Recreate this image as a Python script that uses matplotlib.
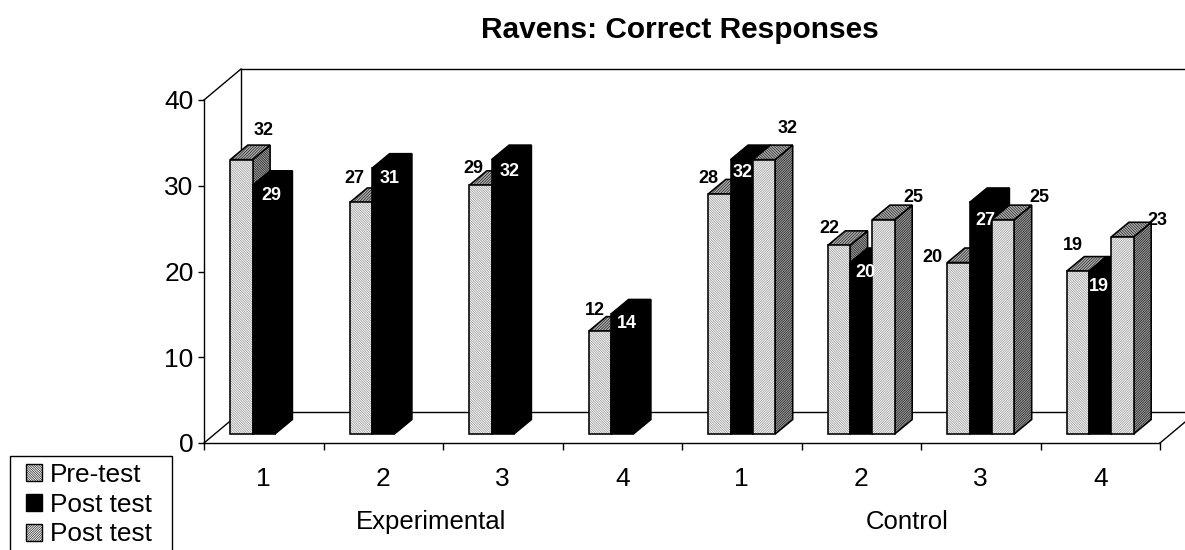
import matplotlib
matplotlib.use("Agg")
import matplotlib.pyplot as plt
from matplotlib.patches import Polygon, Rectangle

plt.rcParams['font.family'] = ['Liberation Sans', 'DejaVu Sans']
plt.rcParams['hatch.linewidth'] = 0.4

# ----- data -----
categories = ['1', '2', '3', '4', '1', '2', '3', '4']
groups = ['Experimental', 'Control']
series_names = ['Pre-test', 'Post test', 'Post test']
pre_test = [32, 27, 29, 12, 28, 22, 20, 19]
post_test = [29, 31, 32, 14, 32, 20, 27, 19]
post_test2 = [None, None, None, None, 32, 25, 25, 23]

# label offsets from the bar's front top centre, in pixels (moved by hand in the original)
pre_offsets = [(22.5, -28.6), (-7, -23.5), (-7.5, -17.3), (-5, -21),
               (-11.5, -15), (-10, -16.4), (-26.5, -4.5), (-5, -26)]
post_offsets = [(7.25, 9.7), (6.75, 10.8), (7.25, 12.4), (4.75, 10),
                (1.25, 13.4), (3.75, 10.5), (4.25, 18.5), (-1.25, 15.9)]
post2_offsets = [None, None, None, None, (24, -30.6), (29.5, -22.6), (36, -22.6), (34.5, -15.8)]

# ----- layout, in pixels of the 1185x550 picture -----
W, H = 1185, 550
left, right, top, bottom = 204, 1160, 100, 443
fig = plt.figure(figsize=(W / 100, H / 100), dpi=100)
ax = fig.add_axes([left / W, 1 - bottom / H, (right - left) / W, (bottom - top) / H])
ax.set_xlim(0, 8)
ax.set_ylim(0, 40)
px_x = 8 / (right - left)
px_y = 40 / (bottom - top)

wall_dx, wall_dy = 37 * px_x, 31 * px_y
depth_dx, depth_dy = 17.5 * px_x, 14.5 * px_y
floor_y = 9 * px_y
bar_w = 22.3 * px_x
edge = 1.15

# ----- walls -----
far_right = 8 + 40 * px_x
wall = dict(color='black', lw=1.0, clip_on=False, zorder=1)
ax.plot([0, wall_dx], [0, wall_dy], **wall)
ax.plot([0, wall_dx], [40, 40 + wall_dy], **wall)
ax.plot([wall_dx, wall_dx], [wall_dy, 40 + wall_dy], **wall)
ax.plot([wall_dx, far_right], [wall_dy, wall_dy], **wall)
ax.plot([wall_dx, far_right], [40 + wall_dy, 40 + wall_dy], **wall)
ax.plot([8, 8 + wall_dx], [0, wall_dy], **wall)

# ----- bars -----
styles = [
    dict(front='#f2f2f2', fh='\\' * 14, fc='#8a8a8a',
         top='#b0b0b0', th='/' * 12, side='#a0a0a0', sh='\\' * 14),
    dict(front='#000000', fh=None, fc='black',
         top='#000000', th=None, side='#000000', sh=None),
    dict(front='#f2f2f2', fh='/' * 14, fc='#8a8a8a',
         top='#b0b0b0', th='\\' * 12, side='#a0a0a0', sh='/' * 14),
]


def draw_bar(x, v, st, z):
    x0, x1 = x - bar_w / 2, x + bar_w / 2
    y0, y1 = floor_y, floor_y + v
    dx, dy = depth_dx, depth_dy
    side = Polygon([(x1, y0), (x1 + dx, y0 + dy), (x1 + dx, y1 + dy), (x1, y1)], closed=True,
                   facecolor=st['side'], edgecolor='black', hatch=st['sh'], lw=edge,
                   clip_on=False, zorder=z)
    roof = Polygon([(x0, y1), (x0 + dx, y1 + dy), (x1 + dx, y1 + dy), (x1, y1)], closed=True,
                   facecolor=st['top'], edgecolor='black', hatch=st['th'], lw=edge,
                   clip_on=False, zorder=z)
    ax.add_patch(side)
    ax.add_patch(roof)
    # hatch first in grey, then the black outline over it
    ax.bar(x, v, bar_w, bottom=floor_y, color=st['front'], edgecolor=st['fc'], hatch=st['fh'],
           lw=0, clip_on=False, zorder=z + 0.1)
    ax.bar(x, v, bar_w, bottom=floor_y, fill=False, edgecolor='black', lw=edge,
           clip_on=False, zorder=z + 0.2)


def draw_label(x, v, off, color):
    ax.annotate(str(v), (x, floor_y + v), xytext=(off[0], -off[1]), textcoords='offset pixels',
                ha='center', va='center', fontsize=13, fontweight='bold', color=color,
                annotation_clip=False, zorder=50)


for i in range(len(categories)):
    xc = i + 0.5
    all_vals = [pre_test[i], post_test[i], post_test2[i]]
    for j, v in enumerate(all_vals):
        if v is not None:
            draw_bar(xc + (j - 1) * bar_w, v, styles[j], 5 + i * 3 + j)

for i in range(len(categories)):
    xc = i + 0.5
    draw_label(xc - bar_w, pre_test[i], pre_offsets[i], 'black')
    draw_label(xc, post_test[i], post_offsets[i], 'white')
    if post_test2[i] is not None:
        draw_label(xc + bar_w, post_test2[i], post2_offsets[i], 'black')

# ----- axes -----
for s in ['top', 'right']:
    ax.spines[s].set_visible(False)
for s in ['left', 'bottom']:
    ax.spines[s].set_linewidth(1.0)
ax.patch.set_alpha(0)
ax.set_yticks([0, 10, 20, 30, 40])
ax.tick_params(axis='y', labelsize=19, length=4.5, width=1.0, pad=3)
ax.set_xticks(range(9))
ax.set_xticklabels([])
ax.tick_params(axis='x', which='major', length=5, width=1.0)
ax.set_xticks([i + 0.5 for i in range(8)], minor=True)
ax.set_xticklabels(categories, minor=True)
ax.tick_params(axis='x', which='minor', length=0, labelsize=19, pad=17)

fig.text(431 / W, 1 - 522 / H, groups[0], ha='center', va='center', fontsize=18.5)
fig.text(907 / W, 1 - 522 / H, groups[1], ha='center', va='center', fontsize=18.5)
fig.text(680 / W, 1 - 30 / H, 'Ravens: Correct Responses', ha='center', va='center',
         fontsize=21.5, fontweight='bold')

# ----- legend -----
fig.add_artist(Rectangle((10 / W, -3 / H), 162 / W, (94 + 3) / H, transform=fig.transFigure,
                         facecolor='white', edgecolor='black', lw=1.0))
handles = [
    Rectangle((0, 0), 1, 1, facecolor='#f2f2f2', edgecolor='black', hatch='\\' * 14, lw=1),
    Rectangle((0, 0), 1, 1, facecolor='black', edgecolor='black', lw=1),
    Rectangle((0, 0), 1, 1, facecolor='#f2f2f2', edgecolor='black', hatch='/' * 14, lw=1),
]
leg = fig.legend(handles, series_names, loc='upper left', bbox_to_anchor=(26 / W, 1 - 463 / H),
                 fontsize=18.9, frameon=False,
                 handlelength=0.62, handleheight=0.62, handletextpad=0.28, labelspacing=0.215,
                 borderpad=0, borderaxespad=0)
leg.set_zorder(10)

fig.savefig('out.png', dpi=100)
